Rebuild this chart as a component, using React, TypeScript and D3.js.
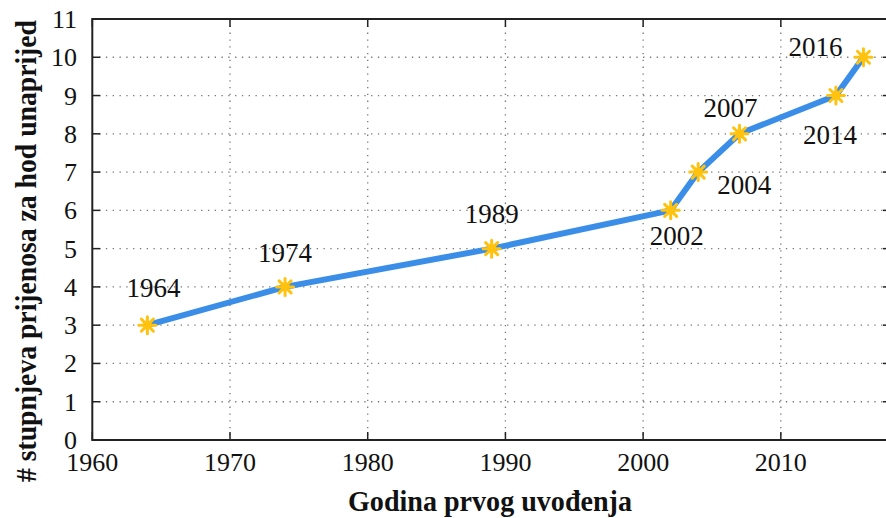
import React from "react";
import * as d3 from "d3";

const years = [1964, 1974, 1989, 2002, 2004, 2007, 2014, 2016];
const values = [3, 4, 5, 6, 7, 8, 9, 10];
const labels = ["1964", "1974", "1989", "2002", "2004", "2007", "2014", "2016"];
// label offsets (dx, dy) of the label centre relative to the point
const labelDx = [6, 0, 0, 6, 46, -9, -6, -48];
const labelDy = [-37, -34, -35, 26, 13, -26, 39, -10];
const xTicks = [1960, 1970, 1980, 1990, 2000, 2010];
const yTicks = [0, 1, 2, 3, 4, 5, 6, 7, 8, 9, 10, 11];

const W = 886;
const H = 518;
const left = 92.3;
const right = 891;
const top = 19;
const bottom = 440;

export default function App() {
  const x = d3.scaleLinear().domain([1960, 2018]).range([left, right]);
  const y = d3.scaleLinear().domain([0, 11]).range([bottom, top]);
  const line = d3
    .line<number>()
    .x((_, i) => x(years[i]))
    .y((d) => y(d));
  const font = "Liberation Serif, serif";
  const gridColor = "#777";
  const star = (cx: number, cy: number, k: number) => {
    const r = 8.5;
    const angles = [0, 45, 90, 135];
    return (
      <g key={k}>
        {angles.map((a) => {
          const rad = (a * Math.PI) / 180;
          return (
            <line
              key={a}
              x1={cx - r * Math.cos(rad)}
              y1={cy - r * Math.sin(rad)}
              x2={cx + r * Math.cos(rad)}
              y2={cy + r * Math.sin(rad)}
              stroke="#FFC20E"
              strokeWidth={3}
              strokeLinecap="round"
            />
          );
        })}
        <circle cx={cx} cy={cy} r={4.5} fill="#FFC20E" />
      </g>
    );
  };
  return (
    <svg
      width={W}
      height={H}
      style={{ position: "absolute", left: 0, top: 0, background: "#fff" }}
    >
      <rect x={0} y={0} width={W} height={H} fill="#fff" />
      {/* grid */}
      {xTicks.slice(1).map((t) => (
        <line
          key={"gx" + t}
          x1={x(t)}
          x2={x(t)}
          y1={top}
          y2={bottom}
          stroke={gridColor}
          strokeWidth={1.3}
          strokeDasharray="1.3 5.5"
        />
      ))}
      {yTicks.slice(1, -1).map((t) => (
        <line
          key={"gy" + t}
          x1={left}
          x2={right}
          y1={y(t)}
          y2={y(t)}
          stroke={gridColor}
          strokeWidth={1.3}
          strokeDasharray="1.3 5.5"
        />
      ))}
      {/* ticks */}
      {xTicks.map((t) => (
        <g key={"tx" + t}>
          <line x1={x(t)} x2={x(t)} y1={bottom} y2={bottom - 8} stroke="#222" strokeWidth={1.5} />
          <line x1={x(t)} x2={x(t)} y1={top} y2={top + 8} stroke="#222" strokeWidth={1.5} />
          <text
            x={x(t)}
            y={471}
            textAnchor="middle"
            fontFamily={font}
            fontSize={26}
            fill="#111"
          >
            {t}
          </text>
        </g>
      ))}
      {yTicks.map((t) => (
        <g key={"ty" + t}>
          <line x1={left} x2={left + 8} y1={y(t)} y2={y(t)} stroke="#222" strokeWidth={1.5} />
          <line x1={right} x2={right - 8} y1={y(t)} y2={y(t)} stroke="#222" strokeWidth={1.5} />
          <text
            x={77}
            y={y(t) + 9}
            textAnchor="end"
            fontFamily={font}
            fontSize={26}
            fill="#111"
          >
            {t}
          </text>
        </g>
      ))}
      {/* frame */}
      <rect
        x={left}
        y={top}
        width={right - left}
        height={bottom - top}
        fill="none"
        stroke="#222"
        strokeWidth={2}
      />
      {/* data line */}
      <path
        d={line(values) || ""}
        fill="none"
        stroke="#3A8EE8"
        strokeWidth={6}
        strokeLinejoin="round"
      />
      {values.map((v, i) => star(x(years[i]), y(v), i))}
      {values.map((v, i) => (
        <text
          key={"l" + i}
          x={x(years[i]) + labelDx[i]}
          y={y(v) + labelDy[i] + 9}
          textAnchor="middle"
          fontFamily={font}
          fontSize={27}
          fill="#111"
        >
          {labels[i]}
        </text>
      ))}
      {/* axis titles */}
      <text
        x={490}
        y={511}
        textAnchor="middle"
        fontFamily={font}
        fontSize={29}
        fontWeight="bold"
        fill="#111"
        textLength={284}
        lengthAdjust="spacingAndGlyphs"
      >
        Godina prvog uvođenja
      </text>
      <text
        transform={`translate(36, 251) rotate(-90)`}
        textAnchor="middle"
        fontFamily={font}
        fontSize={30}
        fontWeight="bold"
        fill="#111"
        textLength={462}
        lengthAdjust="spacingAndGlyphs"
      >
        # stupnjeva prijenosa za hod unaprijed
      </text>
    </svg>
  );
}
